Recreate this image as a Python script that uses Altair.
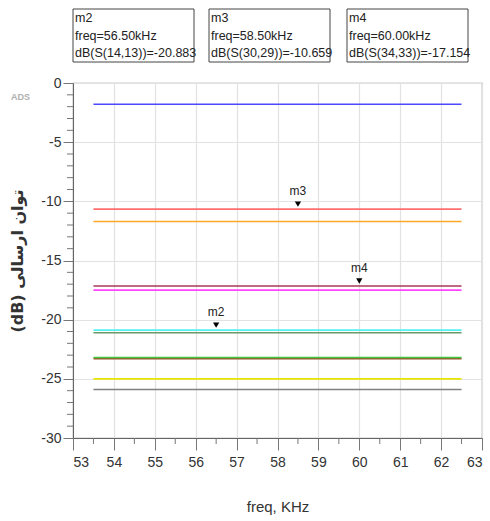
import altair as alt
import pandas as pd

# ---- data ----
freq_span = [53.5, 62.5]  # kHz, start/end of every trace
series_names = ["s1", "s2", "s3", "s4", "s5", "s6", "s7", "s8", "s9", "s10", "s11"]
series_values = [-1.8, -10.659, -11.7, -17.154, -17.5, -20.883, -21.1, -23.3, -23.2, -25.0, -25.9]
series_colors = ["#4b4bff", "#ff6f6f", "#ffa726", "#a8385a", "#ff45ff", "#55f0f0",
                 "#6a9a6a", "#a0522d", "#3fc83f", "#e6e600", "#808080"]

marker_names = ["m2", "m3", "m4"]
marker_freqs = [56.5, 58.5, 60.0]
marker_values = [-20.883, -10.659, -17.154]
marker_params = ["S(14,13)", "S(30,29)", "S(34,33)"]

x_labels = list(range(53, 64))
y_labels = [0, -5, -10, -15, -20, -25, -30]

# ---- layout constants ----
FONT = "Liberation Sans"
W, H = 409, 355
box_left = [0, 136, 274]

rows = []
for n, v in zip(series_names, series_values):
    for f in freq_span:
        rows.append({"series": n, "freq": f, "val": v})
lines_df = pd.DataFrame(rows)

markers_df = pd.DataFrame({"name": marker_names, "freq": marker_freqs, "val": marker_values})

# minor tick positions (half kHz / 1 dB)
x_minor = pd.DataFrame({"freq": [x + 0.5 for x in x_labels[:-1]]})
y_minor = pd.DataFrame({"val": [v for v in range(0, -31, -1) if v % 5 != 0]})

x_scale = alt.Scale(domain=[53, 63], nice=False, zero=False)
y_scale = alt.Scale(domain=[-30, 0], nice=False, zero=False)

x_axis = alt.Axis(
    values=x_labels, labelOverlap=False, tickSize=12,
    grid=True, gridColor="#e2e2e2", gridWidth=1.2,
    tickColor="#777", domainColor="#666", labelColor="#333",
    labelFont=FONT, labelFontSize=14, labelPadding=5,
    title="freq, KHz", titleFont=FONT, titleFontSize=15, titleFontWeight="normal",
    titleColor="#333", titlePadding=30,
)
y_axis = alt.Axis(
    values=y_labels, labelOverlap=False, tickSize=10,
    labelExpr="'' + datum.value",
    grid=True, gridColor="#e2e2e2", gridWidth=1.2,
    tickColor="#777", domainColor="#666", labelColor="#333",
    labelFont=FONT, labelFontSize=14, labelPadding=2,
    title="(dB) توان ارسالی", titleFont="DejaVu Sans", titleFontSize=16, titleFontWeight="bold",
    titleColor="#333", titleX=-56, titleY=H / 2, titleAngle=-90, titleAlign="center",
    titleBaseline="middle",
)

lines = alt.Chart(lines_df).mark_line(strokeWidth=1.6).encode(
    x=alt.X("freq:Q", scale=x_scale, axis=x_axis),
    y=alt.Y("val:Q", scale=y_scale, axis=y_axis),
    color=alt.Color("series:N", scale=alt.Scale(domain=series_names, range=series_colors), legend=None),
)

xminor = alt.Chart(x_minor).mark_rule(color="#777", strokeWidth=1).encode(
    x=alt.X("freq:Q", scale=x_scale), y=alt.value(H), y2=alt.value(H + 6))
yminor = alt.Chart(y_minor).mark_rule(color="#777", strokeWidth=1).encode(
    y=alt.Y("val:Q", scale=y_scale), x=alt.value(0), x2=alt.value(-6))

tri = alt.Chart(markers_df).mark_point(
    shape="triangle-down", filled=True, color="black", size=40, opacity=1, yOffset=-5
).encode(x=alt.X("freq:Q", scale=x_scale), y=alt.Y("val:Q", scale=y_scale))

mlabels = alt.Chart(markers_df).mark_text(
    font=FONT, fontSize=12, color="#222", baseline="bottom", dy=-11
).encode(x=alt.X("freq:Q", scale=x_scale), y=alt.Y("val:Q", scale=y_scale), text="name:N")

layers = [lines, xminor, yminor, tri, mlabels]

# marker readout boxes above the plot
for i, (n, f, v, p) in enumerate(zip(marker_names, marker_freqs, marker_values, marker_params)):
    bdf = pd.DataFrame({
        "l1": [n],
        "l2": [f"freq={f:.2f}kHz"],
        "l3": [f"dB({p})={v:.3f}"],
    })
    base = alt.Chart(bdf)
    layers.append(base.mark_rect(fill="white", stroke="#444", strokeWidth=1).encode(
        x=alt.value(box_left[i]), x2=alt.value(box_left[i] + 121),
        y=alt.value(-74), y2=alt.value(-21)))
    for j, col in enumerate(["l1", "l2", "l3"]):
        layers.append(base.mark_text(font=FONT, fontSize=12.5, color="#222", align="left",
                                     baseline="alphabetic").encode(
            x=alt.value(box_left[i] + 2), y=alt.value(-61 + 17.5 * j), text=f"{col}:N"))

ads = alt.Chart(pd.DataFrame({"t": ["ADS"]})).mark_text(
    font=FONT, fontSize=9, color="#b0b0b0", fontWeight="bold", align="left", baseline="middle"
).encode(x=alt.value(-62), y=alt.value(14), text="t:N")
layers.append(ads)

chart = alt.layer(*layers).properties(
    width=W, height=H,
    autosize=alt.AutoSizeParams(type="none"),
    padding={"left": 73, "top": 83, "right": 8, "bottom": 83},
    background="white",
).configure_view(stroke="#999", strokeWidth=1.2)

chart.save("out.html", embed_options={"renderer": "svg", "actions": False})
